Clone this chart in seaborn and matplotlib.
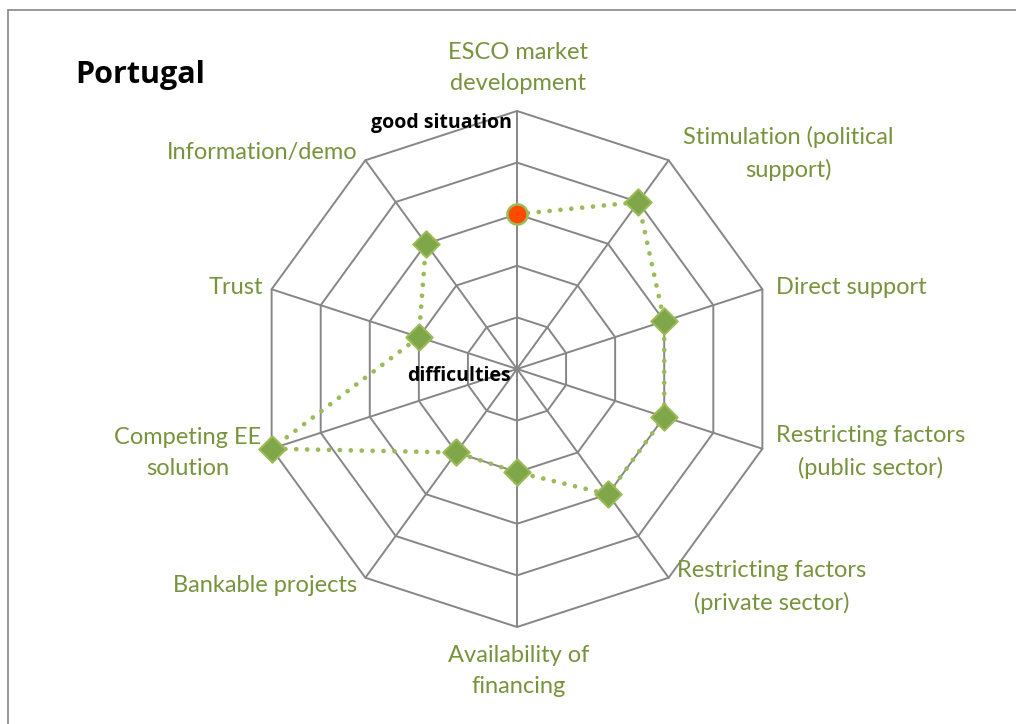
import numpy as np
import pandas as pd
import matplotlib.pyplot as plt
from matplotlib.lines import Line2D
import seaborn as sns

categories = ['ESCO market\ndevelopment', 'Stimulation (political\nsupport)', 'Direct support',
              'Restricting factors\n(public sector)', 'Restricting factors\n(private sector)',
              'Availability of\nfinancing', 'Bankable projects', 'Competing EE\nsolution',
              'Trust', 'Information/demo']
scores = [3, 4, 3, 3, 3, 2, 2, 5, 2, 3]

W, H = 1016, 724
green_txt = '#77933C'
line_col = '#9BBB59'
grid_col = '#868686'

sns.set_style('white')
plt.rcParams['font.family'] = ['Lato', 'DejaVu Sans']

fig = plt.figure(figsize=(W / 100, H / 100), dpi=100)
fig.patch.set_facecolor('white')

# polar axes centred at (517, 369) px, outer radius 258 px
cx, cy, R = 517, 369, 258
ax = fig.add_axes([(cx - R) / W, (H - cy - R) / H, 2 * R / W, 2 * R / H], projection='polar')
ax.set_theta_zero_location('N')
ax.set_theta_direction(-1)
ax.set_ylim(0, 5)
ax.grid(False)
ax.set_xticks([])
ax.set_yticks([])
ax.spines['polar'].set_visible(False)
ax.set_facecolor('none')

n = len(categories)
angles = np.arange(n) * 2 * np.pi / n

# decagon web
for lev in range(1, 6):
    a = np.append(angles, angles[0])
    ax.plot(a, [lev] * (n + 1), color=grid_col, lw=1.4, zorder=1, clip_on=False)
for a in angles:
    ax.plot([a, a], [0, 5], color=grid_col, lw=1.4, zorder=1, clip_on=False)

df = pd.DataFrame({'theta': np.append(angles, angles[0]), 'score': scores + [scores[0]]})
sns.lineplot(data=df, x='theta', y='score', sort=False, ax=ax, color=line_col,
             linewidth=3.4, linestyle=(0, (0.01, 2.3)), dash_capstyle='round',
             zorder=3, clip_on=False)
pts = pd.DataFrame({'theta': angles[1:], 'score': scores[1:]})
sns.scatterplot(data=pts, x='theta', y='score', ax=ax, marker='D', s=180,
                color='#80A64A', edgecolor=line_col, linewidth=1.5, zorder=4, clip_on=False)
ax.scatter([angles[0]], [scores[0]], s=210, color='#FF4A00', edgecolor=line_col,
           linewidth=1.8, zorder=5, clip_on=False)
ax.set_xlabel('')
ax.set_ylabel('')

# category labels (pixel positions)
label_pos = [(518, 68), (788, 153), (851, 287), (871, 452), (772, 587),
             (519, 671), (265, 586), (188, 453), (236, 287), (262, 153)]
for lab, (x, y) in zip(categories, label_pos):
    fig.text(x / W, 1 - y / H, lab, ha='center', va='center', color=green_txt,
             fontsize=17, linespacing=1.6)

bold_font = ['Open Sans', 'DejaVu Sans']
fig.text(441 / W, 1 - 123 / H, 'good situation', ha='center', va='center', family=bold_font,
         fontsize=14, fontweight='bold', color='black')
fig.text(459 / W, 1 - 376 / H, 'difficulties', ha='center', va='center', family=bold_font,
         fontsize=14, fontweight='bold', color='black')
fig.text(75 / W, 1 - 75 / H, 'Portugal', ha='left', va='center', family=bold_font,
         fontsize=22, fontweight='bold', color='black')

# chart frame (left and top edges visible)
fig.add_artist(Line2D([8 / W, 8 / W], [0, 1 - 10 / H], color='#888888', lw=1.2))
fig.add_artist(Line2D([8 / W, 1], [1 - 10 / H, 1 - 10 / H], color='#888888', lw=1.2))

fig.savefig('out.png', dpi=100)
